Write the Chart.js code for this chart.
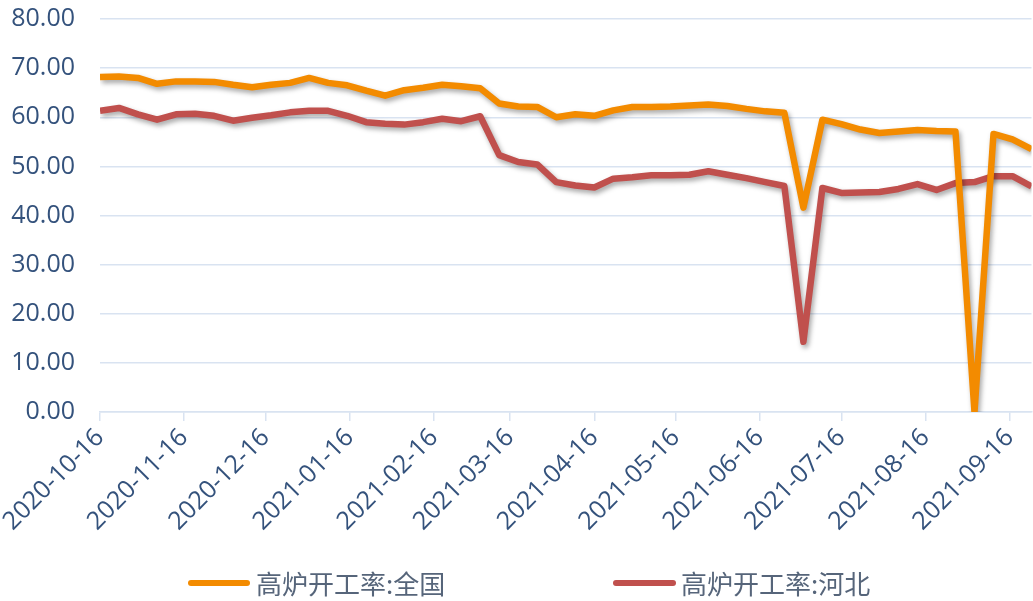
<!DOCTYPE html>
<html lang="zh-CN">
<head>
<meta charset="utf-8">
<title>高炉开工率</title>
<script src="https://cdn.jsdelivr.net/npm/chart.js@4.4.1/dist/chart.umd.min.js"></script>
<style>
    html, body { margin: 0; padding: 0; background: #fff; }
    #wrap { position: relative; width: 1033px; height: 601px; overflow: hidden; }
    #chart { position: absolute; left: 0; top: 0; }
    .legend-line { position: absolute; height: 6px; border-radius: 3px; top: 580px; }
    .legend-text {
        position: absolute; top: 566px; font-family: "Noto Sans CJK SC", sans-serif;
        font-size: 26px; line-height: 34px; color: #56657a; white-space: nowrap;
    }
</style>
</head>
<body>
<div id="wrap">
    <canvas id="chart" width="1033" height="601"></canvas>
    <span class="legend-line" style="left:188px;width:62px;background:#f38b00"></span>
    <span class="legend-text" id="legend-national" style="left:256px"></span>
    <span class="legend-line" style="left:613px;width:63px;background:#c0504d"></span>
    <span class="legend-text" id="legend-hebei" style="left:681px"></span>
</div>
<script>
// 周度数据（每周五）
const dates = [
    '2020-10-16', '2020-10-23', '2020-10-30', '2020-11-06', '2020-11-13', '2020-11-20', '2020-11-27',
    '2020-12-04', '2020-12-11', '2020-12-18', '2020-12-25', '2021-01-01', '2021-01-08', '2021-01-15',
    '2021-01-22', '2021-01-29', '2021-02-05', '2021-02-12', '2021-02-19', '2021-02-26', '2021-03-05',
    '2021-03-12', '2021-03-19', '2021-03-26', '2021-04-02', '2021-04-09', '2021-04-16', '2021-04-23',
    '2021-04-30', '2021-05-07', '2021-05-14', '2021-05-21', '2021-05-28', '2021-06-04', '2021-06-11',
    '2021-06-18', '2021-06-25', '2021-07-02', '2021-07-09', '2021-07-16', '2021-07-23', '2021-07-30',
    '2021-08-06', '2021-08-13', '2021-08-20', '2021-08-27', '2021-09-03', '2021-09-10', '2021-09-17',
    '2021-09-24'
];

// 高炉开工率:全国
const national = [
    68.2, 68.3, 68.0, 66.8, 67.3, 67.3, 67.2, 66.6, 66.1, 66.6,
    67.0, 68.0, 67.0, 66.5, 65.4, 64.4, 65.5, 66.0, 66.6, 66.3,
    65.9, 62.8, 62.2, 62.1, 60.0, 60.6, 60.3, 61.4, 62.1, 62.1,
    62.2, 62.4, 62.6, 62.3, 61.7, 61.2, 60.9, 41.6, 59.5, 58.6,
    57.5, 56.8, 57.1, 57.4, 57.2, 57.1, 0.0, 56.6, 55.5, 53.5
];

// 高炉开工率:河北
const hebei = [
    61.3, 61.9, 60.6, 59.5, 60.6, 60.7, 60.3, 59.3, 59.9, 60.4,
    61.0, 61.3, 61.3, 60.3, 59.0, 58.7, 58.5, 59.0, 59.7, 59.2,
    60.2, 52.3, 50.9, 50.4, 46.8, 46.1, 45.7, 47.5, 47.8, 48.2,
    48.2, 48.3, 49.0, 48.3, 47.6, 46.8, 46.0, 14.3, 45.6, 44.6,
    44.7, 44.8, 45.4, 46.4, 45.2, 46.6, 46.8, 48.0, 48.0, 45.9
];

const seriesNames = ['高炉开工率:全国', '高炉开工率:河北'];
const tickDates = [
    '2020-10-16', '2020-11-16', '2020-12-16', '2021-01-16', '2021-02-16', '2021-03-16',
    '2021-04-16', '2021-05-16', '2021-06-16', '2021-07-16', '2021-08-16', '2021-09-16'
];
const yMin = 0;
const yMax = 80;
const yStep = 10;

const dayOf = s => (Date.parse(s) - Date.parse(dates[0])) / 86400000;
const tickLabelByDay = {};
tickDates.forEach(d => { tickLabelByDay[dayOf(d)] = d; });

const toPoints = values => values.map((v, i) => ({ x: dayOf(dates[i]), y: v }));

document.getElementById('legend-national').textContent = seriesNames[0];
document.getElementById('legend-hebei').textContent = seriesNames[1];

// 线条阴影
const lineShadow = {
    id: 'lineShadow',
    beforeDatasetDraw(chart) {
        const ctx = chart.ctx;
        ctx.save();
        ctx.shadowColor = 'rgba(0, 0, 0, 0.35)';
        ctx.shadowBlur = 5;
        ctx.shadowOffsetX = 2;
        ctx.shadowOffsetY = 3;
    },
    afterDatasetDraw(chart) {
        chart.ctx.restore();
    }
};

const axisFont = { family: '"Open Sans", sans-serif', size: 25 };
const axisColor = '#34527c';
const gridColor = '#d9e3f1';

new Chart(document.getElementById('chart').getContext('2d'), {
    type: 'line',
    data: {
        datasets: [
            {
                label: seriesNames[0],
                data: toPoints(national),
                borderColor: '#f38b00',
                backgroundColor: '#f38b00',
                borderWidth: 6.5,
                pointRadius: 0,
                tension: 0,
                borderJoinStyle: 'round',
                fill: false
            },
            {
                label: seriesNames[1],
                data: toPoints(hebei),
                borderColor: '#c0504d',
                backgroundColor: '#c0504d',
                borderWidth: 6.5,
                pointRadius: 0,
                tension: 0,
                borderJoinStyle: 'round',
                fill: false
            }
        ]
    },
    options: {
        responsive: false,
        animation: false,
        layout: { padding: { top: 19, right: 0, left: 0, bottom: 44 } },
        plugins: {
            legend: { display: false },
            tooltip: { enabled: false }
        },
        scales: {
            x: {
                type: 'linear',
                min: 0,
                max: dayOf(dates[dates.length - 1]),
                afterBuildTicks: scale => {
                    scale.ticks = tickDates.map(d => ({ value: dayOf(d) }));
                },
                afterFit: scale => { scale.height = 145; },
                grid: { drawOnChartArea: false, color: gridColor, tickLength: 9, lineWidth: 1.5 },
                border: { color: gridColor, width: 1.5 },
                ticks: {
                    autoSkip: false,
                    minRotation: 45,
                    maxRotation: 45,
                    padding: 2,
                    color: axisColor,
                    font: axisFont,
                    callback: value => tickLabelByDay[value] || ''
                }
            },
            y: {
                min: yMin,
                max: yMax,
                afterFit: scale => { scale.width = 100; },
                grid: {
                    color: gridColor,
                    drawTicks: true,
                    tickLength: 25,
                    tickColor: 'rgba(0, 0, 0, 0)',
                    lineWidth: 1.5
                },
                border: { display: false },
                ticks: {
                    stepSize: yStep,
                    padding: 0,
                    color: axisColor,
                    font: axisFont,
                    callback: value => value.toFixed(2)
                }
            }
        }
    },
    plugins: [lineShadow]
});
</script>
</body>
</html>
